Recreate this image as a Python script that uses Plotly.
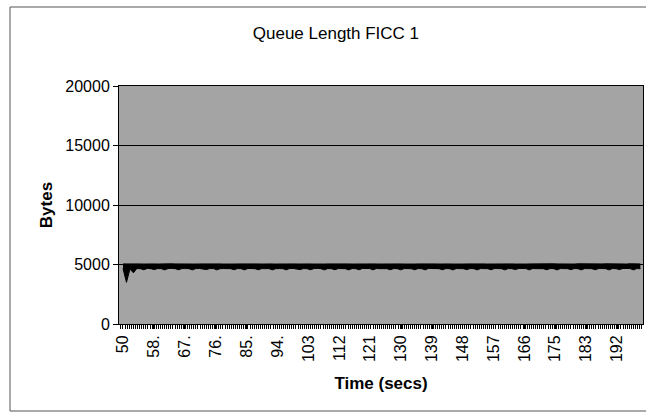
import plotly.graph_objects as go

# ---- data ----
time_s = list(range(50, 200))  # seconds, one sample per second

queue_max = [
    5050, 5060, 5040, 5050, 5060, 5050, 5040, 5060, 5050, 5050, 5040, 5060, 5050, 5040, 5060,
    5050, 5040, 5060, 5050, 5050, 5060, 5040, 5050, 5060, 5050, 5040, 5050, 5060, 5050, 5040,
    5060, 5050, 5040, 5050, 5060, 5050, 5050, 5040, 5060, 5050, 5040, 5060, 5050, 5050, 5040,
    5050, 5060, 5040, 5050, 5060, 5050, 5040, 5060, 5050, 5050, 5040, 5060, 5050, 5040, 5050,
    5060, 5050, 5040, 5050, 5060, 5050, 5040, 5050, 5060, 5050, 5040, 5060, 5050, 5050, 5040,
    5050, 5060, 5040, 5050, 5060, 5050, 5040, 5060, 5050, 5040, 5050, 5060, 5050, 5040, 5060,
    5050, 5040, 5060, 5050, 5050, 5040, 5060, 5050, 5040, 5050, 5060, 5050, 5040, 5060, 5050,
    5040, 5050, 5060, 5050, 5040, 5060, 5050, 5050, 5040, 5060, 5050, 5040, 5050, 5060, 5050,
    5060, 5050, 5040, 5050, 5060, 5050, 5040, 5060, 5050, 5050, 5040, 5060, 5050, 5040, 5050,
    5050, 5060, 5040, 5050, 5060, 5050, 5040, 5060, 5050, 5050, 5040, 5060, 5050, 5040, 5050,
]

queue_min = [
    4660, 3500, 4620, 4300, 4660, 4650, 4560, 4670, 4650, 4570, 4660, 4650, 4550, 4660, 4670,
    4650, 4560, 4660, 4660, 4650, 4550, 4660, 4670, 4650, 4570, 4660, 4660, 4550, 4650, 4660,
    4660, 4650, 4560, 4660, 4650, 4550, 4670, 4660, 4650, 4560, 4660, 4650, 4660, 4550, 4650,
    4660, 4650, 4550, 4660, 4670, 4650, 4570, 4660, 4650, 4560, 4660, 4670, 4650, 4550, 4660,
    4650, 4560, 4660, 4660, 4650, 4550, 4660, 4650, 4560, 4670, 4650, 4660, 4550, 4660, 4650,
    4660, 4650, 4560, 4660, 4650, 4550, 4660, 4660, 4650, 4560, 4660, 4650, 4550, 4670, 4650,
    4660, 4650, 4560, 4660, 4650, 4550, 4660, 4670, 4650, 4570, 4660, 4650, 4550, 4660, 4650,
    4650, 4560, 4660, 4660, 4650, 4550, 4660, 4650, 4570, 4670, 4650, 4660, 4550, 4660, 4650,
    4660, 4650, 4560, 4660, 4650, 4550, 4660, 4670, 4650, 4570, 4660, 4650, 4550, 4660, 4650,
    4650, 4560, 4660, 4660, 4650, 4550, 4660, 4650, 4570, 4670, 4650, 4660, 4550, 4660, 4650,
]

tick_times = [50, 58.9, 67.8, 76.7, 85.6, 94.5, 103.4, 112.3, 121.2, 130.1,
              139.0, 147.9, 156.8, 165.6, 174.5, 183.4, 192.3]
tick_labels = ["50", "58.", "67.", "76.", "85.", "94.", "103", "112", "121", "130",
               "139", "148", "157", "166", "175", "183", "192"]

y_ticks = [0, 5000, 10000, 15000, 20000]
y_labels = ["0", "5000", "10000", "15000", "20000"]

FONT = "Arial, Liberation Sans, sans-serif"

fig = go.Figure()
fig.add_trace(go.Scatter(x=time_s, y=queue_max, mode="lines",
                         line=dict(color="black", width=1), hoverinfo="skip",
                         showlegend=False))
fig.add_trace(go.Scatter(x=time_s, y=queue_min, mode="lines",
                         line=dict(color="black", width=1), fill="tonexty",
                         fillcolor="black", showlegend=False))

fig.update_layout(
    width=646, height=415,
    margin=dict(l=119, r=3, t=86, b=91),
    paper_bgcolor="white",
    plot_bgcolor="#a4a4a4",
    font=dict(family=FONT, color="black", size=16),
    title=dict(text="Queue Length FICC 1", x=0.52, xanchor="center",
               y=1 - 33 / 415, yanchor="middle",
               font=dict(family=FONT, size=17, color="black")),
    showlegend=False,
)

fig.update_xaxes(
    range=[48.85, 199.76],
    tickmode="array", tickvals=tick_times, ticktext=tick_labels,
    tickangle=-90, tickfont=dict(size=16),
    ticks="outside", ticklen=4, tickcolor="black",
    minor=dict(ticks="outside", ticklen=4, tickcolor="black",
               dtick=0.6, tick0=50, showgrid=False),
    showgrid=False, zeroline=False,
    showline=True, linecolor="black", linewidth=1, mirror=True,
    title=dict(text="<b>Time (secs)</b>", font=dict(size=17), standoff=15),
)
fig.update_yaxes(
    range=[0, 20000],
    tickmode="array", tickvals=y_ticks, ticktext=y_labels,
    ticks="outside", ticklen=5, tickcolor="black",
    tickfont=dict(size=16),
    showgrid=True, gridcolor="black", gridwidth=1,
    zeroline=False,
    showline=True, linecolor="black", linewidth=1, mirror=True,
    title=dict(text="<b>Bytes</b>", font=dict(size=17), standoff=8),
)

# outer chart-area border: top, left and bottom edges (right edge is off the picture)
bx0 = (10 - 119) / 524
bx1 = 1.2
by0 = (324 - 411) / 238
by1 = (324 - 7) / 238
border = dict(color="#555555", width=1)
for x0, y0, x1, y1 in [(bx0, by1, bx1, by1), (bx0, by0, bx0, by1), (bx0, by0, bx1, by0)]:
    fig.add_shape(type="line", xref="paper", yref="paper",
                  x0=x0, y0=y0, x1=x1, y1=y1, line=border, layer="below")

fig.write_html("out.html")
